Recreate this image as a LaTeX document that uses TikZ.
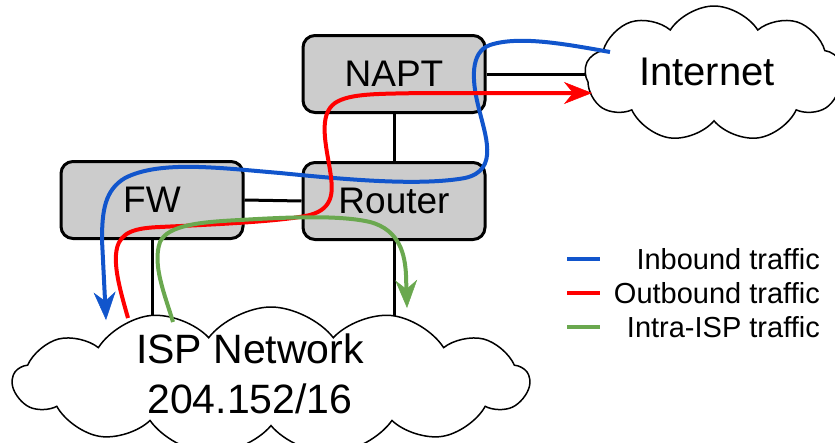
\documentclass[tikz,border=0pt]{standalone}
\usepackage{fontspec}
\setmainfont{Liberation Sans}
\usetikzlibrary{shapes.symbols,arrows.meta,backgrounds}
\definecolor{inblue}{HTML}{1155CC}
\definecolor{outred}{HTML}{FF0000}
\definecolor{intragreen}{HTML}{6AA84F}
\definecolor{boxgray}{HTML}{CCCCCC}
\tikzset{
 devbox/.style={draw, line width=3pt, fill=boxgray, rounded corners=12pt, minimum width=182pt, minimum height=77pt, inner sep=0pt, font=\fontsize{37}{40}\selectfont},
 netcloud/.style={cloud, draw, line width=1.5pt, fill=white, inner sep=0pt},
 link/.style={line width=3pt},
 traffic/.style={line width=4pt},
 tipped/.style={-{Stealth[length=28pt,width=22pt,inset=9pt,line width=0.5pt]}},
 legtext/.style={anchor=east, font=\fontsize{29}{32}\selectfont, inner sep=0pt},
 bigtext/.style={font=\fontsize{41}{50}\selectfont, align=center, inner sep=0pt},
}
\begin{document}
\begin{tikzpicture}[x=1pt,y=-1pt]
\useasboundingbox (0,0) rectangle (835,442);
% devices
\node[devbox] (napt) at (394,74) {NAPT};
\node[devbox] (router) at (394,201) {Router};
\node[devbox] (fw) at (152,200) {FW};
% clouds
\node[netcloud, cloud puffs=9, cloud puff arc=115, aspect=2, minimum width=258pt, minimum height=136pt] (internet) at (714,74) {};
\node[bigtext, font=\fontsize{40}{48}\selectfont] (inetlabel) at (707,72) {Internet};
\node[netcloud, cloud puffs=13, cloud puff arc=105, aspect=3.5, minimum width=516pt, minimum height=148pt] (isp) at (271,381) {};
\node[bigtext] (isplabel) at (250,374) {ISP Network\\204.152/16};
% links behind
\begin{scope}[on background layer]
\draw[link] (napt.south) -- (router.north);
\draw[link] (fw.east) -- (router.west);
\draw[link] (napt.east) -- (internet.center);
\draw[link] (fw.south) -- (fw.south |- isp.center);
\draw[link] (router.south) -- (router.south |- isp.center);
\end{scope}
% traffic
\coordinate (bs) at (610,52);
\coordinate (be) at (106,320);
\coordinate (rs) at (128,318);
\coordinate (re) at (592,93);
\coordinate (gs) at (173,322);
\coordinate (ge) at (407,308);
\draw[traffic, inblue, tipped] (bs) .. controls (570,45) and (520,35) .. (490,45)
  .. controls (470,52) and (472,80) .. (478,105)
  .. controls (485,135) and (500,170) .. (465,178)
  .. controls (420,186) and (350,180) .. (280,173)
  .. controls (220,168) and (160,160) .. (125,178)
  .. controls (105,190) and (102,210) .. (102,240) -- (be);
\draw[traffic, outred, tipped] (rs) .. controls (120,290) and (113,265) .. (117,248)
  .. controls (121,232) and (135,228) .. (160,227)
  .. controls (200,225) and (280,222) .. (310,215)
  .. controls (335,208) and (333,190) .. (330,170)
  .. controls (326,145) and (318,115) .. (335,103)
  .. controls (350,93) and (380,94) .. (420,93) -- (re);
\draw[traffic, intragreen, tipped] (gs) .. controls (165,295) and (152,265) .. (160,242)
  .. controls (168,225) and (200,222) .. (240,220)
  .. controls (290,217) and (340,215) .. (370,222)
  .. controls (400,230) and (405,255) .. (406,275) -- (ge);
% legend
\coordinate (l1a) at (567,259); \coordinate (l1b) at (600,259);
\coordinate (l2a) at (567,293); \coordinate (l2b) at (600,293);
\coordinate (l3a) at (567,327); \coordinate (l3b) at (600,327);
\draw[traffic, inblue] (l1a) -- (l1b);
\draw[traffic, outred] (l2a) -- (l2b);
\draw[traffic, intragreen] (l3a) -- (l3b);
\node[legtext] (leg1) at (820,259) {Inbound traffic};
\node[legtext] (leg2) at (820,293) {Outbound traffic};
\node[legtext] (leg3) at (820,327) {Intra-ISP traffic};
\end{tikzpicture}
\end{document}
